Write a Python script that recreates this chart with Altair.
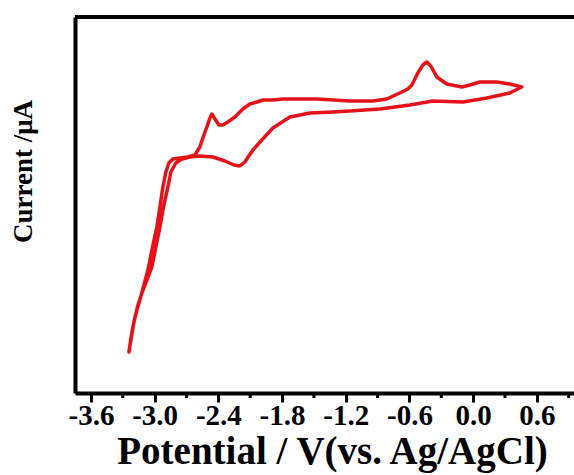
import altair as alt
import pandas as pd

# Cyclic voltammogram (closed loop, in drawing order)
potential = [
    0.458, 0.345, 0.129, -0.097, -0.380, -0.596, -0.879, -1.161, -1.321, -1.538,
    -1.726, -1.886, -1.990, -2.075, -2.150, -2.197, -2.253, -2.338, -2.451, -2.574,
    -2.668, -2.743, -2.800, -2.847, -2.875, -2.913, -2.950, -2.988, -3.026, -3.073,
    -3.120, -3.157, -3.195, -3.223, -3.242,
    -3.223, -3.205, -3.167, -3.139, -3.101, -3.063, -3.026, -2.979, -2.950, -2.922,
    -2.894, -2.866, -2.828, -2.762, -2.687, -2.621, -2.574, -2.536, -2.508, -2.479,
    -2.461, -2.432, -2.395, -2.357, -2.310, -2.244, -2.169, -2.103, -2.037, -1.980,
    -1.886, -1.792, -1.472, -1.161, -0.945, -0.813, -0.672, -0.615, -0.577, -0.521,
    -0.474, -0.436, -0.399, -0.342, -0.248, -0.107, -0.031, 0.063, 0.223, 0.345,
    0.458,
]
current = [
    2.6, 1.4, 0.4, -0.4, -0.2, -1.0, -1.8, -2.2, -2.4, -2.6,
    -3.4, -5.6, -8.0, -10.0, -12.4, -13.2, -13.0, -12.2, -11.4, -11.2,
    -11.4, -11.8, -12.6, -14.4, -17.4, -21.0, -25.4, -29.4, -33.4, -36.0,
    -38.6, -41.0, -44.4, -48.0, -50.4,
    -47.6, -45.4, -42.0, -40.0, -37.0, -34.0, -30.0, -25.4, -21.4, -17.4,
    -14.4, -12.6, -11.8, -11.6, -11.4, -11.0, -9.4, -7.0, -5.4, -3.6,
    -2.8, -3.8, -5.0, -5.0, -4.4, -3.4, -1.8, -0.8, -0.4, 0.0,
    0.0, 0.2, 0.2, -0.2, -0.2, 0.2, 1.6, 2.2, 3.0, 5.4,
    7.0, 7.6, 6.8, 4.6, 3.2, 2.6, 3.0, 3.6, 3.6, 3.2,
    2.6,
]
major_ticks = [-3.6, -3.0, -2.4, -1.8, -1.2, -0.6, 0.0, 0.6]
minor_ticks = [-3.3, -2.7, -2.1, -1.5, -0.9, -0.3, 0.3, 0.9]

W, H = 499, 376
XDOM = [-3.75, 0.95]
YDOM = [-58.6, 16.6]

df = pd.DataFrame({"E": potential, "I": current, "order": range(len(potential))})
minor_df = pd.DataFrame({"E": minor_ticks})

FONT = "Liberation Serif"

xscale = alt.Scale(domain=XDOM, nice=False, zero=False)
yscale = alt.Scale(domain=YDOM, nice=False, zero=False)

label_expr = "datum.value < 0 ? '-' + format(abs(datum.value), '.1f') : format(datum.value, '.1f')"

x_axis = alt.Axis(values=major_ticks, labelExpr=label_expr, grid=False,
                  title="Potential / V(vs. Ag/AgCl)",
                  titleFont=FONT, titleFontWeight="bold", titleFontSize=39,
                  titleX=257, titleY=70, titleBaseline="alphabetic", titleAlign="center",
                  labelFont=FONT, labelFontWeight="bold", labelFontSize=29,
                  labelBaseline="alphabetic", labelPadding=22, labelFlush=False,
                  labelOverlap=False,
                  tickSize=9, tickWidth=3, tickColor="black",
                  domainColor="black", domainWidth=4,
                  labelColor="black", titleColor="black")

curve = alt.Chart(df).mark_line(color="#e5121a", strokeWidth=3.5, strokeJoin="round", strokeCap="round").encode(
    x=alt.X("E:Q", scale=xscale, axis=x_axis),
    y=alt.Y("I:Q", scale=yscale,
            axis=alt.Axis(labels=False, ticks=False, grid=False,
                          title="Current /μA",
                          titleFont=FONT, titleFontWeight="bold", titleFontSize=27,
                          titleAngle=270, titleX=-44, titleY=154,
                          titleBaseline="alphabetic", titleAlign="center",
                          domainColor="black", domainWidth=4, titleColor="black")),
    order="order:Q",
)

minor = alt.Chart(minor_df).mark_rule(color="black", strokeWidth=3).encode(
    x=alt.X("E:Q", scale=xscale, axis=x_axis),
    y=alt.value(H),
    y2=alt.value(H + 5),
)

top_border = alt.Chart(pd.DataFrame({"a": [0]})).mark_rule(color="black", strokeWidth=4).encode(
    x=alt.value(0),
    x2=alt.value(W),
    y=alt.value(0),
)

chart = alt.layer(curve, minor, top_border).properties(
    width=W, height=H,
    autosize=alt.AutoSizeParams(type="none"),
    padding={"left": 75, "top": 17, "right": 0, "bottom": 82},
    background="white",
).configure_view(
    stroke=None
)

chart.save("out.html", embed_options={"renderer": "svg", "actions": False})
